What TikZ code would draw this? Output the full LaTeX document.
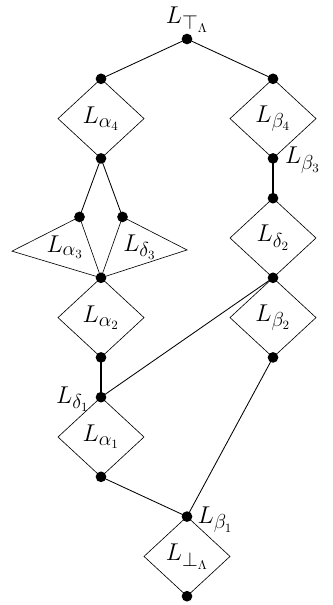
\documentclass[tikz,border=0pt]{standalone}
\usepackage{amsmath, amssymb}
\usepackage{tikz}
\usetikzlibrary{calc}

\begin{document}
\begin{tikzpicture}[x=1.075cm,y=0.995cm,
		dia/.style={line width=0.45pt},
		edge/.style={line width=0.6pt},
		bold/.style={line width=1.3pt},
		lbl/.style={font=\fontsize{19}{23}\selectfont},
		dot/.style={radius=3.8pt}]
				\useasboundingbox (-2.349,0.98) rectangle (5.395,-14.221);
				% top and the two upper diamonds
				\coordinate (T) at (2,0);
				\coordinate (A4t) at (0,-1);
				\coordinate (A4l) at (-1,-2);
				\coordinate (A4r) at (1,-2);
				\coordinate (A4b) at (0,-3);
				\coordinate (B4t) at (4,-1);
				\coordinate (B4l) at (3,-2);
				\coordinate (B4r) at (5,-2);
				\coordinate (B3) at (4,-3);
				% the two kites
				\coordinate (A3t) at (-0.5,-4.47);
				\coordinate (D3t) at (0.5,-4.47);
				\coordinate (A3l) at (-2.07,-5.33);
				\coordinate (D3r) at (2,-5.3);
				\coordinate (C) at (0,-6);
				% right column
				\coordinate (D2t) at (4,-4);
				\coordinate (D2l) at (3,-5);
				\coordinate (D2r) at (5,-5);
				\coordinate (D2b) at (4,-6);
				\coordinate (B2l) at (3,-7);
				\coordinate (B2r) at (5,-7);
				\coordinate (B2b) at (4,-8);
				% left column
				\coordinate (A2l) at (-1,-7);
				\coordinate (A2r) at (1,-7);
				\coordinate (A2b) at (0,-8);
				\coordinate (D1) at (0,-9);
				\coordinate (A1l) at (-1,-10);
				\coordinate (A1r) at (1,-10);
				\coordinate (A1b) at (0,-11);
				% bottom
				\coordinate (B1) at (2,-12);
				\coordinate (Bl) at (1,-13);
				\coordinate (Br) at (3,-13);
				\coordinate (Bb) at (2,-14);

				\draw[dia] (A4t)--(A4l)--(A4b)--(A4r)--cycle;
				\draw[dia] (B4t)--(B4l)--(B3)--(B4r)--cycle;
				\draw[dia] (D2t)--(D2l)--(D2b)--(D2r)--cycle;
				\draw[dia] (D2b)--(B2l)--(B2b)--(B2r)--cycle;
				\draw[dia] (C)--(A2l)--(A2b)--(A2r)--cycle;
				\draw[dia] (D1)--(A1l)--(A1b)--(A1r)--cycle;
				\draw[dia] (B1)--(Bl)--(Bb)--(Br)--cycle;
				\draw[dia] (A3t)--(A3l)--(C)--cycle;
				\draw[dia] (D3t)--(D3r)--(C)--cycle;

				\draw[edge] (A4t)--(T)--(B4t);
				\draw[edge] (A3t)--(A4b)--(D3t);
				\draw[edge] (D1)--(D2b);
				\draw[edge] (A1b)--(B1)--(B2b);
				\draw[bold] (B3)--(D2t);
				\draw[bold] (A2b)--(D1);

				\foreach \p in {T,A4t,A4b,B4t,B3,A3t,D3t,C,D2t,D2b,B2b,A2b,D1,A1b,B1,Bb}
					\fill (\p) circle[dot];

				\node[lbl, above=1pt] (lT) at (T) {$L_{\top_{\Lambda}}$};
				\node[lbl] (lA4) at (0,-2) {$L_{\alpha_4}$};
				\node[lbl] (lB4) at (4,-2) {$L_{\beta_4}$};
				\node[lbl, right=5pt] (lB3) at ($(B3)+(0,-0.05)$) {$L_{\beta_3}$};
				\node[lbl] (lA3) at (-0.84,-5.23) {$L_{\alpha_3}$};
				\node[lbl] (lD3) at (0.9,-5.23) {$L_{\delta_3}$};
				\node[lbl] (lD2) at (4,-5) {$L_{\delta_2}$};
				\node[lbl] (lA2) at (0,-7) {$L_{\alpha_2}$};
				\node[lbl] (lB2) at (4,-7) {$L_{\beta_2}$};
				\node[lbl, left=5pt] (lD1) at ($(D1)+(0,-0.05)$) {$L_{\delta_1}$};
				\node[lbl] (lA1) at (0,-10) {$L_{\alpha_1}$};
				\node[lbl, right=4pt] (lB1) at ($(B1)+(0,-0.08)$) {$L_{\beta_1}$};
				\node[lbl] (lBot) at (2,-13) {$L_{\bot_{\Lambda}}$};
			\end{tikzpicture}
\end{document}
